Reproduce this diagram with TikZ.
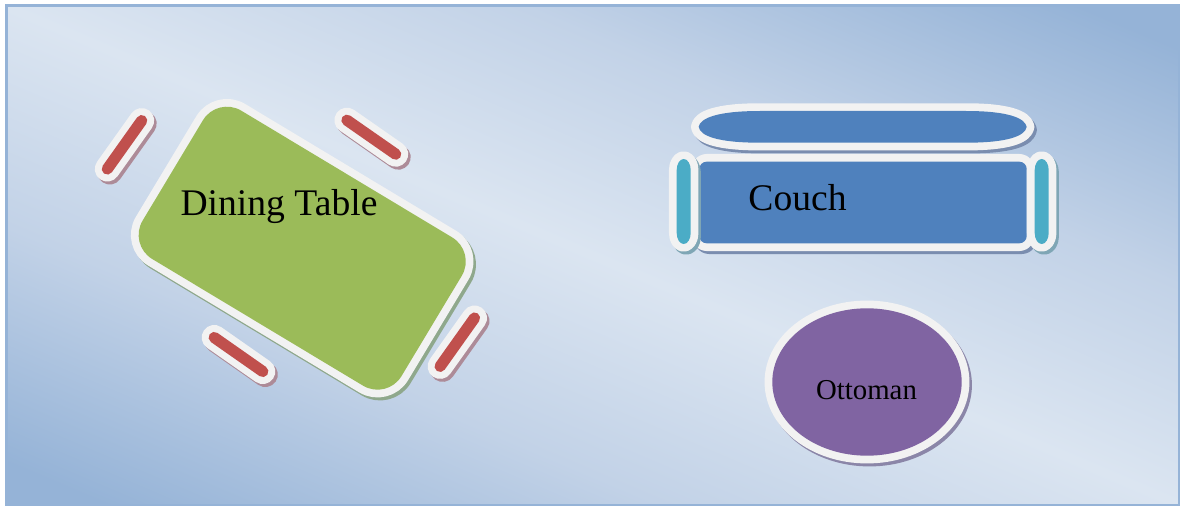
\documentclass[tikz,border=0pt]{standalone}
\usepackage{fontspec}
\setmainfont{Liberation Serif}

\definecolor{roomdark}{HTML}{95B3D7}
\definecolor{roommid}{HTML}{C2D2E7}
\definecolor{roomlight}{HTML}{DBE5F1}
\definecolor{rimwhite}{HTML}{F2F2F2}
\definecolor{tablegreen}{HTML}{9BBB59}
\definecolor{tableshadow}{HTML}{8FA88C}
\definecolor{chairred}{HTML}{C0504D}
\definecolor{chairshadow}{HTML}{AD8B98}
\definecolor{couchblue}{HTML}{4F81BD}
\definecolor{couchshadow}{HTML}{7A8DAF}
\definecolor{armteal}{HTML}{4BACC6}
\definecolor{armshadow}{HTML}{7FA6B5}
\definecolor{ottomanpurple}{HTML}{8064A2}
\definecolor{ottomanshadow}{HTML}{8B86A8}

\pgfdeclareverticalshading{roomfade}{100bp}{
  color(0bp)=(roomdark); color(25bp)=(roomdark); color(38bp)=(roommid);
  color(50bp)=(roomlight);
  color(62bp)=(roommid); color(75bp)=(roomdark); color(100bp)=(roomdark)}

\tikzset{
  piece/.style 2 args={fill=#1, line join=round,
    preaction={draw=#2, fill=#2, line width=11.6pt, line join=round, transform canvas={shift={(2.5,3)}}},
    preaction={draw=rimwhite, line width=11.6pt, line join=round}},
  stick/.style={draw=chairred, line width=8.4pt, line cap=round,
    preaction={draw=chairshadow, line width=18.8pt, line cap=round, transform canvas={shift={(2.5,3)}}},
    preaction={draw=rimwhite, line width=18.8pt, line cap=round}},
  biglabel/.style={anchor=base, font=\fontsize{28.2}{32}\selectfont, inner sep=0pt}
}

\begin{document}
\begin{tikzpicture}[x=0.75pt, y=-0.75pt]

\useasboundingbox (0,0) rectangle (1181,506);

\begin{scope}
\clip (6.5,5.5) rectangle (1179,505);
\fill[color=roomdark] (6.5,5.5) rectangle (1179,505);
\shade[transform canvas={shift={(592,255)}, rotate=-23}, shading=roomfade]
(-800,-420) rectangle (800,420);
\end{scope}
\draw[color=roomdark, line width=1.9pt] (6.5,5.5) rectangle (1179,505);

% dining table and chairs
\begin{scope}[shift={(302.2,248.2)}, rotate=-31]
\path[piece={tablegreen}{tableshadow}, rounded corners=21pt]
(-151,-86.5) rectangle (151,86.5);
\end{scope}

\draw[stick] (107.3,169)--(141.7,120.6);
\draw[stick] (346.9,120.2)--(395.7,154.2);
\draw[stick] (214.2,337.5)--(262.8,371.5);
\draw[stick] (440.1,366.4)--(474.5,318);

% couch
\path[piece={couchblue}{couchshadow}]
(760,111)--(966,111) .. controls (1008,111) and (1025,118) .. (1026.7,126.85)
.. controls (1025,136) and (1008,142.7) .. (966,142.7)--(760,142.7)
.. controls (718,142.7) and (700,136) .. (698.7,126.85)
.. controls (700,118) and (718,111) .. (760,111)--cycle;
\path[piece={couchblue}{couchshadow}, rounded corners=5.5pt]
(699.3,161.7) rectangle (1026.7,243.3);
\path[piece={armteal}{armshadow}]
(676.7,170) arc (180:360:7 and 11)--(690.7,233) arc (0:180:7 and 11)--cycle;
\path[piece={armteal}{armshadow}]
(1034.7,170) arc (180:360:7 and 11)--(1048.7,233) arc (0:180:7 and 11)--cycle;

% ottoman
\path[piece={ottomanpurple}{ottomanshadow}]
(867,382) ellipse (94.7 and 73.7);

\node[biglabel] (tablelabel) at (279,215.5) {Dining Table};
\node[biglabel] (couchlabel) at (797.5,210) {Couch};
\node[biglabel, font=\fontsize{21.6}{26}\selectfont] (ottomanlabel) at (866.5,399.3) {Ottoman};

\end{tikzpicture}
\end{document}
